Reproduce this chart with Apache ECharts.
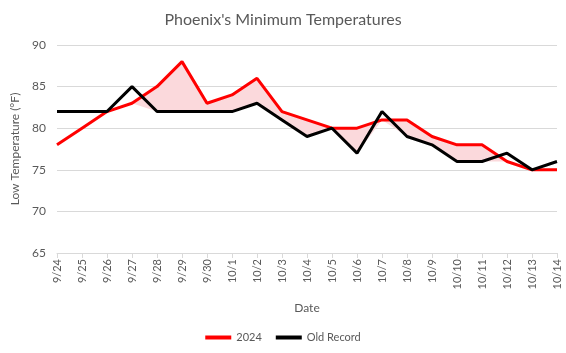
<!DOCTYPE html>
<html>
<head>
<meta charset="utf-8">
<script src="https://cdn.jsdelivr.net/npm/echarts@6/dist/echarts.min.js"></script>
<style>
  html, body { margin: 0; padding: 0; background: #fff; }
  #chart { width: 566px; height: 353px; }
</style>
</head>
<body>
<div id="chart"></div>
<script>
var dates = ['9/24','9/25','9/26','9/27','9/28','9/29','9/30','10/1','10/2','10/3','10/4',
  '10/5','10/6','10/7','10/8','10/9','10/10','10/11','10/12','10/13','10/14']
var temps2024 = [78,80,82,83,85,88,83,84,86,82,81,80,80,81,81,79,78,78,76,75,75]
var oldRecord = [82,82,82,85,82,82,82,82,83,81,79,80,77,82,79,78,76,76,77,75,76]

// shading: from the lower of the two lines up to the 2024 line
var base = []
var band = []
for (var i = 0; i < dates.length; i++) {
  var lo = Math.min(temps2024[i], oldRecord[i])
  base.push(lo)
  band.push(temps2024[i] - lo)
}

var txt = '#595959'
var font = 'Lato'
var myChart = echarts.init(document.getElementById('chart'))
myChart.setOption({
  animation: false,
  textStyle: { fontFamily: font },
  title: {
    text: "Phoenix's Minimum Temperatures",
    left: 'center',
    top: 7,
    textStyle: { fontFamily: font, fontSize: 16, fontWeight: 'normal', color: txt }
  },
  legend: {
    data: ['2024', 'Old Record'],
    bottom: 5,
    left: 'center',
    itemWidth: 26,
    itemHeight: 4,
    itemGap: 14,
    icon: 'rect',
    textStyle: { fontFamily: font, fontSize: 11, color: txt }
  },
  grid: { left: 57, right: 9, top: 45, bottom: 100 },
  xAxis: {
    type: 'category',
    data: dates,
    boundaryGap: false,
    name: 'Date',
    nameLocation: 'middle',
    nameGap: 49,
    nameTextStyle: { fontFamily: font, fontSize: 12, color: txt },
    axisLine: { lineStyle: { color: '#d9d9d9' } },
    axisTick: { alignWithLabel: true, length: 5, lineStyle: { color: '#d9d9d9' } },
    axisLabel: { rotate: 90, interval: 0, fontSize: 11, color: txt, fontFamily: font, margin: 6 }
  },
  yAxis: {
    type: 'value',
    min: 65,
    max: 90,
    interval: 5,
    name: 'Low Temperature (°F)',
    nameLocation: 'middle',
    nameGap: 28,
    nameTextStyle: { fontFamily: font, fontSize: 12, color: txt },
    axisLine: { show: false },
    axisTick: { show: false },
    axisLabel: { fontSize: 12, color: txt, fontFamily: font, margin: 11 },
    splitLine: { lineStyle: { color: '#d9d9d9' } }
  },
  series: [
    {
      name: 'base', type: 'line', stack: 'fill', data: base,
      symbol: 'none', lineStyle: { width: 0, opacity: 0 }, silent: true
    },
    {
      name: 'band', type: 'line', stack: 'fill', data: band,
      symbol: 'none', lineStyle: { width: 0, opacity: 0 },
      areaStyle: { color: '#fbd9dc', opacity: 1 }, silent: true
    },
    {
      name: '2024', type: 'line', data: temps2024, symbol: 'none',
      lineStyle: { color: '#ff0000', width: 3 }, itemStyle: { color: '#ff0000' }
    },
    {
      name: 'Old Record', type: 'line', data: oldRecord, symbol: 'none',
      lineStyle: { color: '#000000', width: 3 }, itemStyle: { color: '#000000' }
    }
  ]
})
</script>
</body>
</html>
